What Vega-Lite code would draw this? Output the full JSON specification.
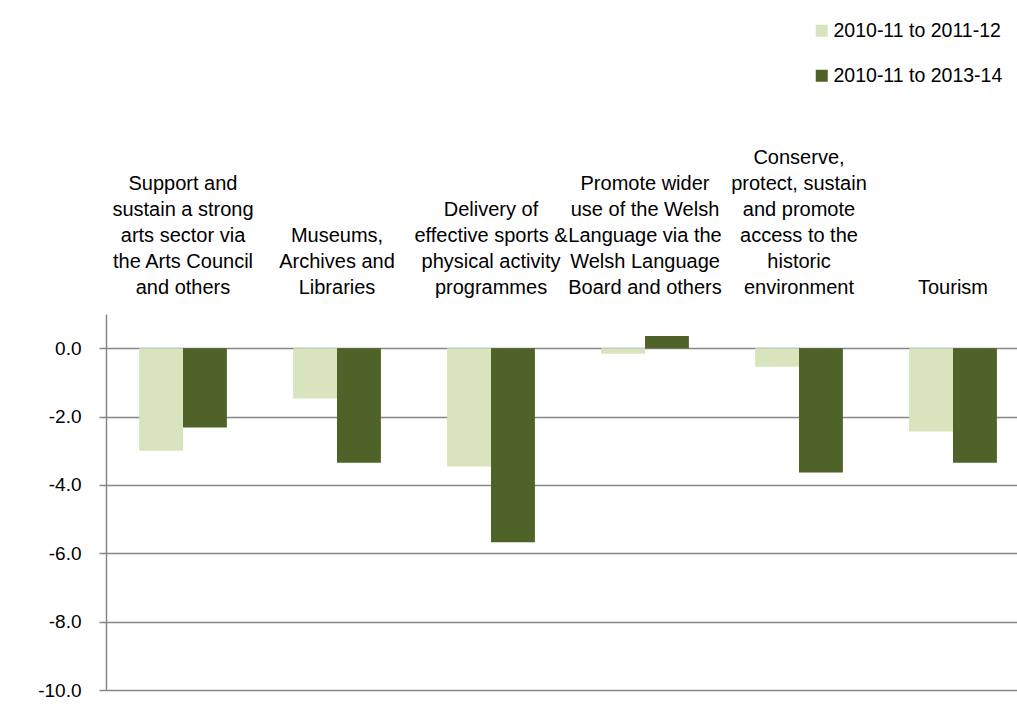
{
  "$schema": "https://vega.github.io/schema/vega-lite/v6.json",
  "autosize": "none",
  "width": 911,
  "height": 376,
  "padding": {"left": 106, "top": 314, "right": 0, "bottom": 29},
  "background": "white",
  "view": {"stroke": null},
  "config": {
    "font": "Liberation Sans",
    "axis": {"labelFont": "Liberation Sans", "labelColor": "#000000"},
    "legend": {"labelFont": "Liberation Sans"}
  },
  "data": {
    "values": [
      {"category": "Support and|sustain a strong|arts sector via|the Arts Council|and others", "series": "2010-11 to 2011-12", "value": -3.0},
      {"category": "Support and|sustain a strong|arts sector via|the Arts Council|and others", "series": "2010-11 to 2013-14", "value": -2.32},
      {"category": "Museums,|Archives and|Libraries", "series": "2010-11 to 2011-12", "value": -1.47},
      {"category": "Museums,|Archives and|Libraries", "series": "2010-11 to 2013-14", "value": -3.35},
      {"category": "Delivery of|effective sports &|physical activity|programmes", "series": "2010-11 to 2011-12", "value": -3.46},
      {"category": "Delivery of|effective sports &|physical activity|programmes", "series": "2010-11 to 2013-14", "value": -5.68},
      {"category": "Promote wider|use of the Welsh|Language via the|Welsh Language|Board and others", "series": "2010-11 to 2011-12", "value": -0.16},
      {"category": "Promote wider|use of the Welsh|Language via the|Welsh Language|Board and others", "series": "2010-11 to 2013-14", "value": 0.36},
      {"category": "Conserve,|protect, sustain|and promote|access to the|historic|environment", "series": "2010-11 to 2011-12", "value": -0.54},
      {"category": "Conserve,|protect, sustain|and promote|access to the|historic|environment", "series": "2010-11 to 2013-14", "value": -3.64},
      {"category": "Tourism", "series": "2010-11 to 2011-12", "value": -2.44},
      {"category": "Tourism", "series": "2010-11 to 2013-14", "value": -3.35}
    ]
  },
  "mark": {"type": "bar"},
  "encoding": {
    "x": {
      "field": "category",
      "type": "nominal",
      "sort": null,
      "title": null,
      "scale": {"paddingInner": 0.43, "paddingOuter": 0.215, "range": [0, 924]},
      "axis": {
        "orient": "top",
        "domain": false,
        "ticks": false,
        "labelAngle": 0,
        "labelAlign": "center",
        "labelBaseline": "middle",
        "labelPadding": 157,
        "labelFontSize": 20,
        "labelLineHeight": 26,
        "labelLimit": 0,
        "labelOverlap": false,
        "labelBound": false,
        "labelExpr": "split(substring('\u200b|\u200b|\u200b|\u200b|\u200b|', 0, 2 * (6 - length(split(datum.label, '|')))) + datum.label, '|')"
      }
    },
    "xOffset": {"field": "series", "type": "nominal", "sort": ["2010-11 to 2011-12", "2010-11 to 2013-14"]},
    "y": {
      "field": "value",
      "type": "quantitative",
      "title": null,
      "scale": {"domain": [-10, 1], "nice": false, "zero": false},
      "axis": {
        "values": [-10, -8, -6, -4, -2, 0],
        "labelExpr": "replace(format(datum.value, '.1f'), '\u2212', '-')",
        "labelFontSize": 19,
        "labelPadding": 18,
        "tickSize": 7,
        "tickColor": "#868686",
        "domainColor": "#868686",
        "gridColor": "#868686",
        "grid": true,
        "tickWidth": 1.5,
        "domainWidth": 1.5,
        "gridWidth": 1.5
      }
    },
    "color": {
      "field": "series",
      "type": "nominal",
      "scale": {"domain": ["2010-11 to 2011-12", "2010-11 to 2013-14"], "range": ["#D7E4BD", "#4F6228"]},
      "legend": {
        "title": null,
        "orient": "none",
        "legendX": 706,
        "legendY": -293,
        "symbolType": "square",
        "symbolSize": 144,
        "symbolStrokeWidth": 0,
        "labelFontSize": 19.5,
        "labelColor": "#000000",
        "labelLimit": 0,
        "rowPadding": 24,
        "labelOffset": 2,
        "padding": 0
      }
    }
  }
}
